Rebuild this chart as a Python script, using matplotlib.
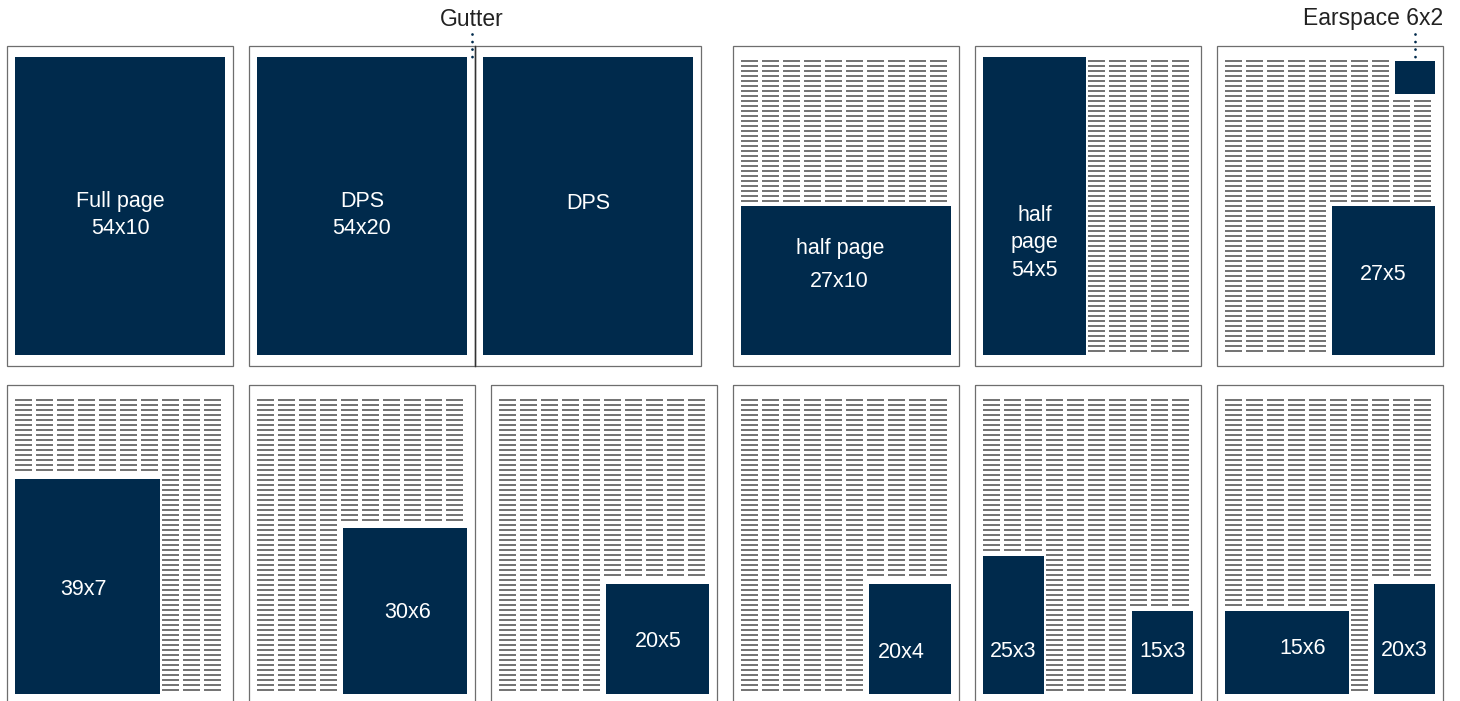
import numpy as np
import matplotlib.pyplot as plt
from matplotlib.patches import Rectangle
from matplotlib.collections import LineCollection

plt.rcParams['font.family'] = ['Liberation Sans', 'DejaVu Sans']

# pages: two rows of six, the DPS pair shares one edge (the gutter)
page_left = [7, 249, 475, 733, 975, 1217, 7, 249, 491, 733, 975, 1217]
page_row = [0, 0, 0, 0, 0, 0, 1, 1, 1, 1, 1, 1]

# ad sizes: depth in cm x width in columns
ad_labels = ["Full page\n54x10", "DPS\n54x20", "DPS", "half page\n27x10", "half\npage\n54x5",
             "27x5", "Earspace 6x2", "39x7", "30x6", "20x5", "20x4", "25x3", "15x3", "15x6", "20x3"]
ad_depth = [54, 54, 54, 27, 54, 27, 6, 39, 30, 20, 20, 25, 15, 15, 20]
ad_cols = [10, 10, 10, 10, 5, 5, 2, 7, 6, 5, 4, 3, 3, 6, 3]
ad_page = [0, 1, 2, 3, 4, 5, 5, 6, 7, 8, 9, 10, 10, 11, 11]
ad_first_col = [0, 0, 0, 0, 0, 5, 8, 0, 4, 5, 6, 0, 7, 0, 7]

# where the label sits inside each ad (fraction of width / depth)
lab_fx = [0.5, 0.5, 0.5, 0.47, 0.5, 0.5, 0.5, 0.47, 0.52, 0.51, 0.39, 0.5, 0.5, 0.63, 0.5]
lab_fy = [0.52, 0.52, 0.48, 0.375, 0.614, 0.44, 0.5, 0.5, 0.49, 0.50, 0.6, 0.67, 0.45, 0.42, 0.58]

navy = '#002a4c'
page_w, page_h = 226, 320
row_top = [46, 385]
inset_top, inset_bot = 11, 309
pitch, dash = 21, 17
line_step = 5.0
px_per_cm = (inset_bot - inset_top) / 54.0
gap = 4
text_dy = 3

fig = plt.figure(figsize=(14.6, 7.01), dpi=100)
ax = fig.add_axes([0, 0, 1, 1])
ax.set_xlim(0, 1460)
ax.set_ylim(701, 0)
ax.axis('off')

# page boxes
for left, r in zip(page_left, page_row):
    ax.add_patch(Rectangle((left, row_top[r]), page_w, page_h, fill=False,
                           ec='#6e6e6e', lw=0.9))

# ad rectangles
ad_boxes = []
for i in range(len(ad_labels)):
    p = ad_page[i]
    top = row_top[page_row[p]]
    cx = page_left[p] + 8
    c0, n = ad_first_col[i], ad_cols[i]
    x0 = cx + c0 * pitch + (2 if c0 > 0 else 0)
    x1 = cx + (c0 + n) * pitch - (2 if c0 + n < 10 else 0)
    h = ad_depth[i] * px_per_cm
    if ad_labels[i].startswith("Earspace"):
        y0 = top + inset_top + 4
    else:
        y0 = top + inset_bot - h
    ad_boxes.append((p, c0, n, y0, y0 + h))
    ax.add_patch(Rectangle((x0, y0), x1 - x0, h, fc=navy, ec='none'))
    if ad_labels[i].startswith("Earspace"):
        xm = (x0 + x1) / 2
        ax.plot([xm, xm], [34, 57], color=navy, lw=2.0,
                ls=(0, (0.01, 2.7)), dash_capstyle='round')
        ax.text(1443, 19, ad_labels[i], ha='right', va='center', fontsize=16.5, color='#222222')
        continue
    ls = 1.75 if ad_labels[i] == "half page\n27x10" else 1.38
    ax.text(x0 + lab_fx[i] * (x1 - x0), y0 + lab_fy[i] * h + text_dy, ad_labels[i],
            ha='center', va='center', color='white', fontsize=15.5, linespacing=ls)

# column text, shown as rows of short rules
segs = []
for p, left in enumerate(page_left):
    top = row_top[page_row[p]]
    cx = left + 8
    ys = np.arange(top + 15, top + inset_bot + 1, line_step)
    for col in range(10):
        xs = cx + col * pitch
        for y in ys:
            hidden = False
            for (ap, c0, n, a0, a1) in ad_boxes:
                if ap == p and c0 <= col < c0 + n and a0 - gap <= y <= a1 + gap:
                    hidden = True
                    break
            if not hidden:
                segs.append([(xs, y), (xs + dash, y)])
ax.add_collection(LineCollection(segs, colors='#3a3a3a', linewidths=1.0, snap=False))

# gutter between the two DPS pages
gx = page_left[2]
ax.plot([gx, gx], [row_top[0], row_top[0] + page_h], color='#333333', lw=1.0)
ax.plot([gx - 3, gx - 3], [34, 57], color=navy, lw=2.0, ls=(0, (0.01, 2.7)), dash_capstyle='round')
ax.text(gx - 3, 19, "Gutter", ha='center', va='center', fontsize=16.5, color='#222222')

fig.savefig('out.png', dpi=100)
